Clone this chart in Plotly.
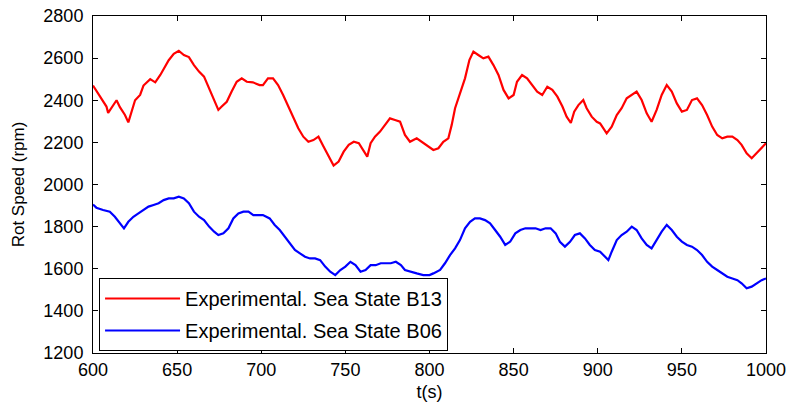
import plotly.graph_objects as go

# Sea State B13 (red) readings: time (s), rotational speed (rpm)
t_b13 = [600, 602, 604, 606, 608, 609, 612, 614, 616, 619, 621, 623, 625, 628, 630, 634, 637, 640, 642, 645,
         648, 651, 654, 657, 660, 663, 666, 669, 672, 674.5, 676.5, 679.5, 682.4, 685.4, 688.4, 691.4, 695, 699,
         701, 704, 707, 710, 713, 716, 719, 722, 725, 728, 731, 734, 737, 740, 743, 746, 749, 752, 755, 758, 761,
         763, 765, 767.6, 770.6, 773.6, 776.5, 779.5, 782.5, 785.4, 788.4, 792.4, 796.3, 798.3, 802.3, 805.3,
         808.2, 811.2, 813.2, 815.2, 817.2, 819.1, 821.1, 823.7, 826.1, 829, 832, 835, 838, 841, 844, 847, 850,
         852, 855, 858, 861, 864, 867, 870, 873, 876, 879, 881.5, 884, 886, 888.5, 891.4, 893.4, 896.4, 899.4,
         901.4, 905.3, 908.3, 911.3, 914.2, 917.2, 920.2, 923.1, 926.1, 929.1, 932, 935, 938, 941, 944, 947, 950,
         953, 956, 959, 962, 965, 968, 971, 974, 977, 980, 983, 985.5, 988.5, 991.5, 994.4, 997.4, 1000]
v_b13 = [2470, 2445, 2420, 2400, 2370, 2340, 2377, 2400, 2367, 2330, 2295, 2350, 2400, 2425, 2470, 2500, 2485, 2520, 2550, 2590,
         2620, 2635, 2615, 2605, 2567, 2536, 2512, 2457, 2400, 2354, 2370, 2393, 2441, 2488, 2504, 2488, 2485, 2472,
         2472, 2504, 2504, 2472, 2425, 2370, 2314, 2267, 2227, 2203, 2211, 2227, 2180, 2132, 2090, 2109, 2156, 2188, 2203, 2196, 2156,
         2132, 2196, 2227, 2251, 2283, 2314, 2306, 2298, 2235, 2203, 2219, 2196, 2188, 2164, 2172,
         2203, 2219, 2283, 2362, 2409, 2457, 2504, 2591, 2631, 2615, 2599, 2607, 2567, 2520, 2449, 2409, 2425,
         2488, 2520, 2504, 2472, 2441, 2425, 2464, 2449, 2417, 2370, 2322, 2292, 2346, 2377, 2401, 2362, 2322, 2298,
         2290, 2243, 2274, 2330, 2362, 2409, 2425, 2441, 2401, 2338, 2298, 2354, 2425, 2472, 2441, 2385, 2346,
         2354, 2401, 2409, 2377, 2330, 2275, 2235, 2219, 2227, 2227, 2211, 2188, 2148, 2125, 2148, 2172, 2196]

# Sea State B06 (blue) readings
t_b06 = [600, 602, 606, 610, 613, 616, 618.4, 621, 624, 627, 630, 633, 636, 639, 642, 645, 648, 651, 654, 657,
         660, 663, 666, 669, 672, 674.5, 677.5, 680.5, 683.4, 686.4, 689.4, 692.4, 695.3, 699, 701, 705, 708, 711,
         714, 717, 720, 723, 726, 729, 732, 735, 738, 741, 744, 747, 750, 753, 756, 759, 762, 765, 768, 771, 774,
         777, 780, 783, 785.4, 788.4, 792.4, 796.3, 800, 802.3, 806.3, 809.2, 812.2, 815.2, 818.1, 821.1, 824.1,
         827, 830, 833, 836, 839, 842, 845, 848, 851, 854, 857, 860, 863, 866, 869, 872, 875, 877.5, 880.5, 883.5,
         886.4, 889.4, 892.4, 895.3, 898.3, 901.4, 904.3, 906.3, 908.3, 911.3, 914.2, 917.2, 920.2, 923.1, 926.1,
         929.1, 932, 935, 938, 941, 944, 947, 950, 953, 956, 959, 962, 965, 968, 971, 974, 977, 980, 983, 985.5,
         988.5, 991.5, 994.4, 997.4, 1000]
v_b06 = [1905, 1890, 1879, 1871, 1847, 1816, 1792, 1823, 1847, 1863, 1879, 1895, 1903, 1911, 1926, 1934, 1934, 1942, 1934, 1911,
         1871, 1847, 1831, 1800, 1776, 1760, 1768, 1792, 1839, 1863, 1871, 1871, 1855, 1855, 1855, 1839, 1808, 1784,
         1752, 1721, 1689, 1673, 1657, 1649, 1649, 1641, 1610, 1586, 1570, 1594, 1610, 1633, 1617, 1586, 1594, 1617, 1617, 1626, 1626,
         1626, 1633, 1617, 1594, 1586, 1578, 1570, 1570, 1578, 1594, 1626, 1665, 1697, 1736, 1792, 1823,
         1839, 1839, 1831, 1816, 1784, 1752, 1713, 1729, 1768, 1784, 1792, 1792, 1792, 1784, 1792, 1792, 1768, 1728, 1705, 1728,
         1760, 1768, 1744, 1713, 1689, 1681, 1657, 1641, 1681, 1736, 1760, 1776, 1800, 1784, 1744,
         1713, 1697, 1736, 1776, 1808, 1784, 1752, 1729, 1713, 1705, 1689, 1665, 1633, 1610, 1594, 1578, 1562, 1554, 1546, 1531,
         1507, 1515, 1531, 1546, 1554]

x_ticks = [600, 650, 700, 750, 800, 850, 900, 950, 1000]
y_ticks = [1200, 1400, 1600, 1800, 2000, 2200, 2400, 2600, 2800]

FONT = "Liberation Sans, Arial, sans-serif"

fig = go.Figure()
fig.add_trace(go.Scatter(x=t_b13, y=v_b13, mode="lines", name="Experimental. Sea State B13",
                         legendgroup="b13", line=dict(color="#FF0000", width=2.2)))
fig.add_trace(go.Scatter(x=t_b06, y=v_b06, mode="lines", name="Experimental. Sea State B06",
                         legendgroup="b06", line=dict(color="#0000FF", width=2.2)))

axis_common = dict(showgrid=False, zeroline=False, showline=True, linecolor="black", linewidth=1,
                   mirror="ticks", ticks="inside", ticklen=5, tickcolor="black", automargin=False,
                   tickfont=dict(family=FONT, size=18, color="black"))
fig.update_xaxes(range=[600, 1000], tickvals=x_ticks, ticktext=[str(v) for v in x_ticks],
                 title=dict(text="t(s)", font=dict(family=FONT, size=18, color="black"), standoff=6),
                 **axis_common)
fig.update_yaxes(range=[1200, 2800], tickvals=y_ticks, ticktext=[str(v) for v in y_ticks],
                 ticklabelstandoff=5,
                 title=dict(text="Rot Speed (rpm)", font=dict(family=FONT, size=17, color="black"), standoff=14),
                 **axis_common)

fig.update_layout(
    width=790, height=412,
    margin=dict(l=93, r=24, t=16, b=59),
    paper_bgcolor="white", plot_bgcolor="white",
    showlegend=True,
    legend=dict(x=0.009, y=0.006, xanchor="left", yanchor="bottom",
                bgcolor="white", bordercolor="black", borderwidth=1,
                font=dict(family=FONT, size=20, color="black"),
                tracegroupgap=3, itemwidth=75),
    font=dict(family=FONT, size=18, color="black"),
)

fig.write_html("out.html")
